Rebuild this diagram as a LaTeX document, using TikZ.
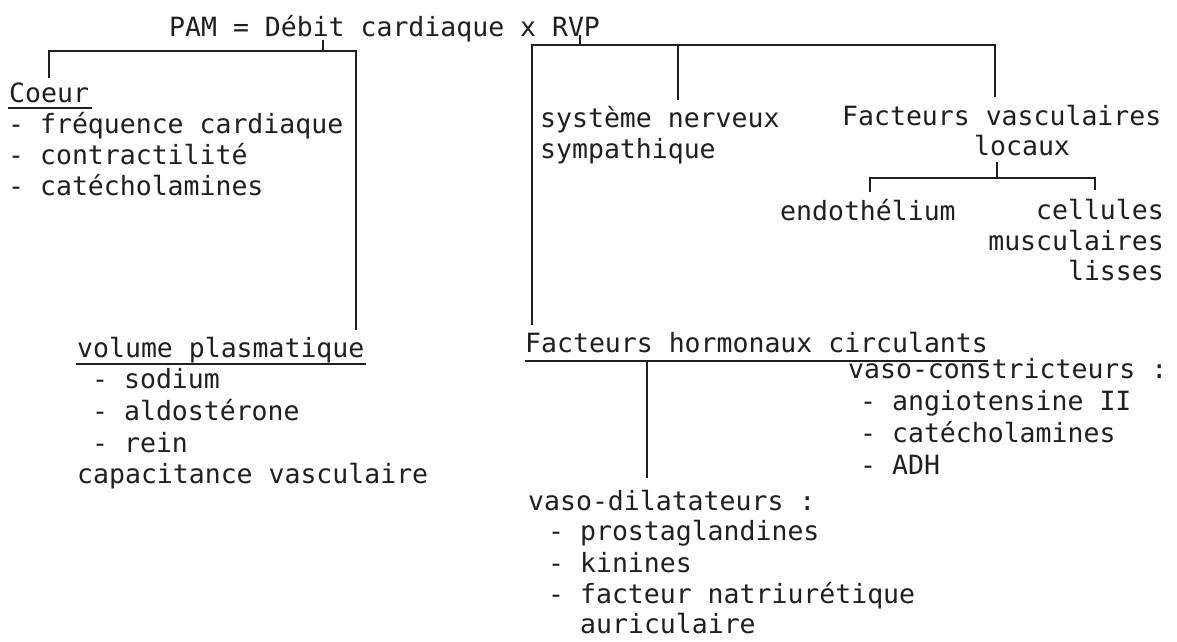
\documentclass[tikz,border=0pt]{standalone}
\usepackage{fontspec}
\newfontfamily\monofont{DejaVu Sans Mono}
\definecolor{ink}{gray}{0.12}
\begin{document}
\begin{tikzpicture}[x=1pt,y=-1pt,
  txt/.style={font=\monofont\fontsize{26.5}{31}\selectfont, text=ink, inner sep=0pt, anchor=base west},
  rtxt/.style={txt, anchor=base east},
  conn/.style={draw=ink, line width=1.8pt, line cap=butt},
  uline/.style={draw=ink, line width=1.8pt}]
\useasboundingbox[fill=white] (0,0) rectangle (1177,641);

% title
\node[txt] (pam) at (169,36) {PAM = Débit cardiaque x RVP};

% left branch : coeur
\node[txt] (coeur) at (9,102) {Coeur};
\node[txt] (c1) at (8,133) {- fréquence cardiaque};
\node[txt] (c2) at (8,164) {- contractilité};
\node[txt] (c3) at (8,195) {- catécholamines};

% volume plasmatique
\node[txt] (vol) at (77,357) {volume plasmatique};
\node[txt] (v1) at (92,388) {- sodium};
\node[txt] (v2) at (92,420) {- aldostérone};
\node[txt] (v3) at (92,452) {- rein};
\node[txt] (cap) at (77,483) {capacitance vasculaire};

% right branch
\node[txt] (sns1) at (540,127) {système nerveux};
\node[txt] (sns2) at (540,158) {sympathique};
\node[txt] (fvl1) at (842,125) {Facteurs vasculaires};
\node[txt] (fvl2) at (974,155) {locaux};
\node[txt] (endo) at (780,220) {endothélium};
\node[rtxt] (cel1) at (1164,219) {cellules};
\node[rtxt] (cel2) at (1164,250) {musculaires};
\node[rtxt] (cel3) at (1164,280) {lisses};

\node[txt] (fhc) at (525,352) {Facteurs hormonaux circulants};
\node[txt] (vc) at (848,378) {vaso-constricteurs :};
\node[txt] (vc1) at (860,410) {- angiotensine II};
\node[txt] (vc2) at (860,442) {- catécholamines};
\node[txt] (vc3) at (860,474) {- ADH};
\node[txt] (vd) at (528,510) {vaso-dilatateurs :};
\node[txt] (vd1) at (548,540) {- prostaglandines};
\node[txt] (vd2) at (548,572) {- kinines};
\node[txt] (vd3) at (548,603) {- facteur natriurétique};
\node[txt] (vd4) at (580,633) {auriculaire};

% underlines
\draw[uline] ([shift={(-1,6)}]coeur.base west) -- ([shift={(3,6)}]coeur.base east);
\draw[uline] ([shift={(-1,7)}]vol.base west) -- ([shift={(1,7)}]vol.base east);
\draw[uline] ([shift={(0,9)}]fhc.base west) -- ([shift={(0,9)}]fhc.base east);

% left bracket
\coordinate (lt) at (323,40);
\coordinate (lj) at (323,51);
\coordinate (lA) at (49,78);
\coordinate (lB) at (356,51);
\coordinate (lC) at (356,330);
\draw[conn] (lt) -- (lj);
\draw[conn] (lA) |- (lB) -- (lC);

% right bracket
\coordinate (rt) at (580,35);
\coordinate (rj) at (580,45);
\coordinate (rL) at (532,325);
\coordinate (rR) at (995,45);
\coordinate (rRe) at (995,97);
\coordinate (rM) at (678,45);
\coordinate (rMe) at (678,100);
\draw[conn] (rt) -- (rj);
\draw[conn] (rL) |- (rR) -- (rRe);
\draw[conn] (rM) -- (rMe);

% local factors bracket
\coordinate (st) at (997,162);
\coordinate (sj) at (997,178);
\coordinate (sL) at (870,192);
\coordinate (sR) at (1095,178);
\coordinate (sRe) at (1095,190);
\draw[conn] (st) -- (sj);
\draw[conn] (sL) |- (sR) -- (sRe);

% hormonal vertical
\coordinate (hT) at (647,361);
\coordinate (hB) at (647,478);
\draw[conn] (hT) -- (hB);
\end{tikzpicture}
\end{document}
